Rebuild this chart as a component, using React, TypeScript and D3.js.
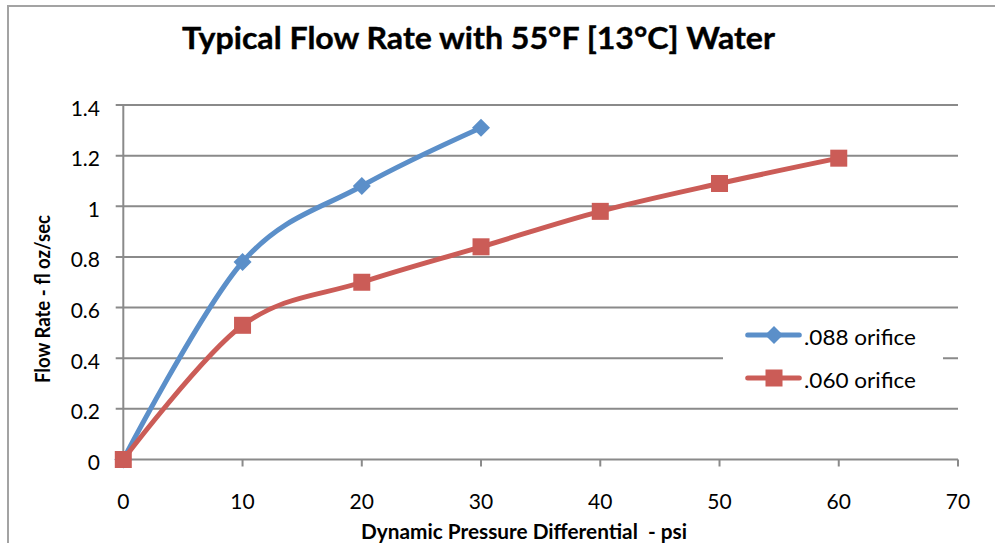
import React from "react";
import * as d3 from "d3";

const xTicks = [0, 10, 20, 30, 40, 50, 60, 70];
const yTicks = [0, 0.2, 0.4, 0.6, 0.8, 1, 1.2, 1.4];
const pressure088 = [0, 10, 20, 30];
const flow088 = [0, 0.78, 1.08, 1.31];
const pressure060 = [0, 10, 20, 30, 40, 50, 60];
const flow060 = [0, 0.53, 0.7, 0.84, 0.98, 1.09, 1.19];
const seriesNames = [".088 orifice", ".060 orifice"];
const title = "Typical Flow Rate with 55°F [13°C] Water";
const xLabel = "Dynamic Pressure Differential\u00a0 - psi";
const yLabel = "Flow Rate - fl oz/sec";

const BLUE = "#5b8fc9";
const RED = "#cb5c57";
const GRID = "#8a8a8a";
const FONT = "Lato, 'Open Sans', sans-serif";

export default function App() {
  const W = 995;
  const H = 543;
  const x = d3.scaleLinear().domain([0, 70]).range([123.3, 958]);
  const y = d3.scaleLinear().domain([0, 1.4]).range([459.5, 105]);

  const line = d3
    .line<[number, number]>()
    .x((d) => x(d[0]))
    .y((d) => y(d[1]))
    .curve(d3.curveCardinal.tension(0));

  const blueData: [number, number][] = pressure088.map((p, i) => [p, flow088[i]]);
  const redData: [number, number][] = pressure060.map((p, i) => [p, flow060[i]]);

  const diamond = (cx: number, cy: number, r: number) =>
    `M${cx},${cy - r}L${cx + r},${cy}L${cx},${cy + r}L${cx - r},${cy}Z`;

  const legendX0 = 747.7;
  const legendX1 = 799.3;
  const legendMid = 774;
  const legendY = [335, 378];

  return (
    <svg
      width={W}
      height={H}
      style={{ position: "absolute", left: 0, top: 0, background: "#fff" }}
      fontFamily={FONT}
    >
      <rect x={0} y={0} width={W} height={H} fill="#fff" />
      {/* chart border */}
      <path d={`M8,${H + 5}V6H${W + 5}`} fill="none" stroke="#a3a3a3" strokeWidth={2} />

      {/* title */}
      <text
        x={478.5}
        y={48.5}
        textAnchor="middle"
        fontSize={31}
        fontWeight="bold"
        textLength={593}
        lengthAdjust="spacingAndGlyphs"
        fill="#000"
        stroke="#000"
        strokeWidth={0.4}
      >
        {title}
      </text>

      {/* gridlines */}
      {yTicks.map((t) => (
        <line key={"g" + t} x1={115.7} x2={958} y1={y(t)} y2={y(t)} stroke={GRID} strokeWidth={2} />
      ))}
      {/* y axis */}
      <line x1={x(0)} x2={x(0)} y1={y(1.4)} y2={y(0)} stroke={GRID} strokeWidth={2} />
      {/* x axis ticks */}
      {xTicks.map((t) => (
        <line key={"xt" + t} x1={x(t)} x2={x(t)} y1={y(0)} y2={y(0) + 7} stroke={GRID} strokeWidth={2} />
      ))}

      {/* y tick labels */}
      {yTicks.map((t) => (
        <text key={"yl" + t} x={100} y={y(t) + 10.5} textAnchor="end" fontSize={21} fill="#000">
          {String(t)}
        </text>
      ))}
      {/* x tick labels */}
      {xTicks.map((t) => (
        <text key={"xl" + t} x={x(t)} y={509} textAnchor="middle" fontSize={21} fill="#000">
          {String(t)}
        </text>
      ))}

      {/* axis titles */}
      <text
        x={524}
        y={539}
        textAnchor="middle"
        fontSize={21}
        fontWeight="bold"
        textLength={326}
        lengthAdjust="spacingAndGlyphs"
        fill="#000"
      >
        {xLabel}
      </text>
      <text
        transform={`translate(50,299) rotate(-90)`}
        textAnchor="middle"
        fontSize={21}
        fontWeight="bold"
        textLength={168}
        lengthAdjust="spacingAndGlyphs"
        fill="#000"
      >
        {yLabel}
      </text>

      {/* series .088 */}
      <path d={line(blueData) || ""} fill="none" stroke={BLUE} strokeWidth={5} strokeLinejoin="round" />
      {blueData.map((d, i) => (
        <path key={"bm" + i} d={diamond(x(d[0]), y(d[1]), 9)} fill={BLUE} />
      ))}

      {/* series .060 */}
      <path d={line(redData) || ""} fill="none" stroke={RED} strokeWidth={5} strokeLinejoin="round" />
      {redData.map((d, i) => (
        <rect key={"rm" + i} x={x(d[0]) - 8.5} y={y(d[1]) - 8.5} width={17} height={17} fill={RED} />
      ))}

      {/* legend */}
      <rect x={723} y={318} width={220} height={82} fill="#fff" />
      <line x1={legendX0} x2={legendX1} y1={legendY[0]} y2={legendY[0]} stroke={BLUE} strokeWidth={5} strokeLinecap="round" />
      <path d={diamond(legendMid, legendY[0], 9)} fill={BLUE} />
      <text x={804} y={legendY[0] + 10} fontSize={21} fill="#000" textLength={112} lengthAdjust="spacingAndGlyphs">
        {seriesNames[0]}
      </text>
      <line x1={legendX0} x2={legendX1} y1={legendY[1]} y2={legendY[1]} stroke={RED} strokeWidth={5} strokeLinecap="round" />
      <rect x={legendMid - 8.5} y={legendY[1] - 8.5} width={17} height={17} fill={RED} />
      <text x={804} y={legendY[1] + 10} fontSize={21} fill="#000" textLength={112} lengthAdjust="spacingAndGlyphs">
        {seriesNames[1]}
      </text>
    </svg>
  );
}
